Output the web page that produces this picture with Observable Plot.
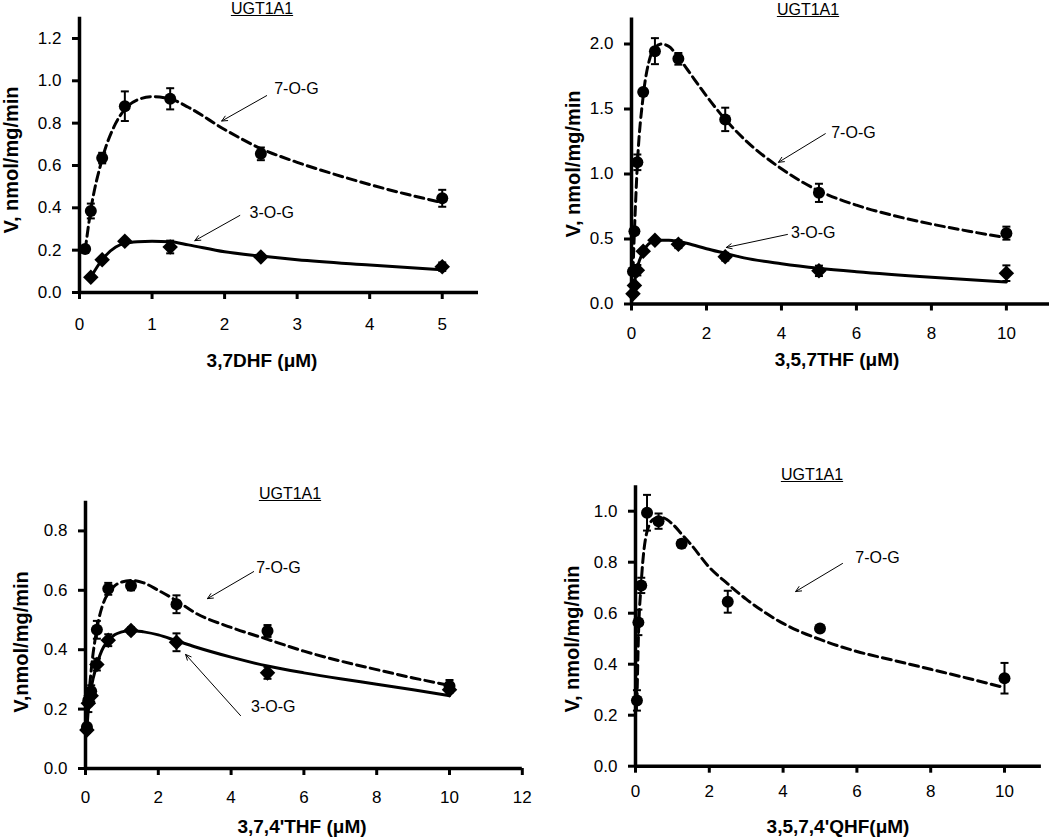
<!DOCTYPE html>
<html>
<head>
<meta charset="utf-8">
<script src="https://cdn.jsdelivr.net/npm/d3@7"></script>
<script src="https://cdn.jsdelivr.net/npm/@observablehq/plot@0.6"></script>
<style>
  body { margin: 0; background: #fff; font-family: "Liberation Sans", Arial, sans-serif; }
  #root { position: relative; width: 1050px; height: 837px; overflow: hidden; background: #fff; }
  .panel { position: absolute; }
  .t { position: absolute; white-space: nowrap; color: #000; transform: translate(-50%, -50%); line-height: 1; }
  .ugt { font-size: 16px; text-decoration: underline; }
  .xt { font-size: 19px; font-weight: bold; }
  .yt { font-size: 20px; font-weight: bold; transform: translate(-50%, -50%) rotate(-90deg); }
</style>
</head>
<body>
<div id="root"></div>
<script>
// ---------- Panel 1: 3,7DHF ----------
const p1SevenX = [0.078, 0.156, 0.3125, 0.625, 1.25, 2.5, 5];
const p1Seven = [0.205, 0.385, 0.635, 0.88, 0.915, 0.655, 0.445];
const p1SevenErr = [0, 0.035, 0.025, 0.07, 0.05, 0.03, 0.04];
const p1ThreeX = [0.156, 0.3125, 0.625, 1.25, 2.5, 5];
const p1Three = [0.072, 0.155, 0.242, 0.215, 0.168, 0.122];
const p1ThreeErr = [0, 0, 0.01, 0.03, 0.01, 0.02];
const p1SevenFitX = [0.078, 0.156, 0.3125, 0.5, 0.625, 0.8, 1.0, 1.25, 1.5, 2.0, 2.5, 3.0, 3.5, 4.0, 4.5, 5.0];
const p1SevenFit = [0.2, 0.39, 0.63, 0.8, 0.865, 0.91, 0.925, 0.915, 0.875, 0.77, 0.68, 0.615, 0.56, 0.51, 0.465, 0.425];
const p1ThreeFitX = [0.156, 0.3125, 0.5, 0.625, 0.8, 1.0, 1.25, 1.5, 2.0, 2.5, 3.0, 4.0, 5.0];
const p1ThreeFit = [0.072, 0.155, 0.215, 0.232, 0.24, 0.242, 0.24, 0.225, 0.192, 0.172, 0.155, 0.13, 0.107];

// ---------- Panel 2: 3,5,7THF ----------
const p2X = [0.039, 0.078, 0.156, 0.3125, 0.625, 1.25, 2.5, 5, 10];
const p2Seven = [0.25, 0.56, 1.09, 1.63, 1.945, 1.886, 1.42, 0.855, 0.545];
const p2SevenErr = [0, 0, 0.06, 0, 0.1, 0.045, 0.09, 0.07, 0.05];
const p2Three = [0.078, 0.142, 0.26, 0.406, 0.49, 0.46, 0.364, 0.255, 0.237];
const p2ThreeErr = [0, 0, 0.04, 0, 0, 0.03, 0.03, 0.04, 0.06];
const p2SevenFitX = [0.039, 0.078, 0.156, 0.3125, 0.5, 0.625, 0.8, 1.0, 1.25, 1.5, 2.0, 2.5, 3, 4, 5, 6, 7, 8, 9, 10];
const p2SevenFit = [0.25, 0.56, 1.07, 1.6, 1.9, 1.97, 2.0, 1.98, 1.9, 1.8, 1.6, 1.42, 1.27, 1.04, 0.87, 0.76, 0.68, 0.615, 0.56, 0.51];
const p2ThreeFitX = [0.039, 0.078, 0.156, 0.3125, 0.5, 0.8, 1.0, 1.25, 1.5, 2, 2.5, 3, 4, 5, 6, 8, 10];
const p2ThreeFit = [0.09, 0.16, 0.28, 0.4, 0.47, 0.49, 0.49, 0.48, 0.465, 0.425, 0.39, 0.355, 0.31, 0.275, 0.248, 0.205, 0.17];

// ---------- Panel 3: 3,7,4'THF ----------
const p3X = [0.039, 0.078, 0.156, 0.3125, 0.625, 1.25, 2.5, 5, 10];
const p3Seven = [0.14, 0.23, 0.26, 0.467, 0.605, 0.615, 0.553, 0.463, 0.278];
const p3SevenErr = [0.01, 0.02, 0.02, 0.03, 0.02, 0.015, 0.03, 0.02, 0.02];
const p3Three = [0.13, 0.22, 0.245, 0.35, 0.432, 0.465, 0.425, 0.322, 0.265];
const p3ThreeErr = [0.01, 0.03, 0.02, 0.02, 0.02, 0.01, 0.03, 0.02, 0.01];
const p3SevenFitX = [0.039, 0.078, 0.156, 0.3125, 0.5, 0.625, 0.8, 1.0, 1.3, 1.6, 2, 2.5, 3, 4, 5, 6, 7, 8, 9, 10];
const p3SevenFit = [0.14, 0.22, 0.33, 0.47, 0.56, 0.59, 0.615, 0.628, 0.633, 0.625, 0.6, 0.565, 0.525, 0.475, 0.435, 0.395, 0.362, 0.333, 0.305, 0.28];
const p3ThreeFitX = [0.039, 0.078, 0.156, 0.3125, 0.5, 0.625, 0.8, 1.0, 1.25, 1.6, 2, 2.5, 3, 4, 5, 6, 7, 8, 9, 10];
const p3ThreeFit = [0.13, 0.2, 0.27, 0.35, 0.41, 0.43, 0.45, 0.46, 0.465, 0.46, 0.45, 0.43, 0.41, 0.375, 0.345, 0.322, 0.302, 0.284, 0.265, 0.245];

// ---------- Panel 4: 3,5,7,4'QHF ----------
const p4X = [0.039, 0.078, 0.156, 0.3125, 0.625, 1.25, 2.5, 5, 10];
const p4Seven = [0.258, 0.564, 0.709, 0.994, 0.961, 0.872, 0.645, 0.54, 0.345];
const p4SevenErr = [0.04, 0.05, 0.03, 0.07, 0.03, 0.015, 0.043, 0, 0.06];
const p4SevenFitX = [0.039, 0.078, 0.156, 0.3125, 0.5, 0.7, 1.0, 1.25, 1.5, 2, 2.5, 3, 4, 5, 6, 7, 8, 9, 10];
const p4SevenFit = [0.25, 0.5, 0.72, 0.92, 0.97, 0.975, 0.95, 0.91, 0.87, 0.78, 0.715, 0.655, 0.56, 0.497, 0.45, 0.415, 0.38, 0.345, 0.308];

// ---------- Labels ----------
const panelTitle = "UGT1A1";
const xTitles = ["3,7DHF (μM)", "3,5,7THF (μM)", "3,7,4'THF (μM)", "3,5,7,4'QHF(μM)"];
const yTitles = ["V, nmol/mg/min", "V, nmol/mg/min", "V,nmol/mg/min", "V, nmol/mg/min"];
const p1XTicks = [0, 1, 2, 3, 4, 5];
const p1YTicks = [0, 0.2, 0.4, 0.6, 0.8, 1.0, 1.2];
const p2XTicks = [0, 2, 4, 6, 8, 10];
const p2YTicks = [0, 0.5, 1.0, 1.5, 2.0];
const p3XTicks = [0, 2, 4, 6, 8, 10, 12];
const p3YTicks = [0, 0.2, 0.4, 0.6, 0.8];
const p4XTicks = [0, 2, 4, 6, 8, 10];
const p4YTicks = [0, 0.2, 0.4, 0.6, 0.8, 1.0];

// Annotation labels and arrows (data coordinates)
const p1Notes = [{label: "7-O-G", x: 2.99, y: 0.96, x1: 2.58, y1: 0.93, x2: 1.96, y2: 0.81},
                 {label: "3-O-G", x: 2.65, y: 0.378, x1: 2.21, y1: 0.364, x2: 1.59, y2: 0.245}];
const p2Notes = [{label: "7-O-G", x: 5.92, y: 1.32, x1: 5.17, y1: 1.31, x2: 3.92, y2: 1.09},
                 {label: "3-O-G", x: 4.85, y: 0.55, x1: 4.16, y1: 0.535, x2: 2.53, y2: 0.435}];
const p3Notes = [{label: "7-O-G", x: 5.3, y: 0.677, x1: 4.62, y1: 0.663, x2: 3.35, y2: 0.572},
                 {label: "3-O-G", x: 5.16, y: 0.209, x1: 4.26, y1: 0.178, x2: 2.75, y2: 0.384}];
const p4Notes = [{label: "7-O-G", x: 6.56, y: 0.818, x1: 5.61, y1: 0.795, x2: 4.34, y2: 0.685}];

// ---------- helpers ----------
const rows = (xs, ys, es) => xs.map((x, i) => ({x, y: ys[i], e: es ? es[i] : 0}));
const capSymbol = { draw(ctx, size) { const w = Math.sqrt(size / Math.PI); ctx.moveTo(-w, 0); ctx.lineTo(w, 0); } };

function seriesMarks(pts, fit, symbol, dashed) {
  const withErr = pts.filter(d => d.e > 0);
  return [
    Plot.line(fit, {x: "x", y: "y", curve: "monotone-x", stroke: "#000", strokeWidth: 3,
      strokeDasharray: dashed ? "9,5" : null}),
    Plot.ruleX(withErr, {x: "x", y1: d => d.y - d.e, y2: d => d.y + d.e, stroke: "#000", strokeWidth: 2}),
    Plot.dot(withErr, {x: "x", y: d => d.y + d.e, symbol: capSymbol, r: 4, fill: "none", stroke: "#000", strokeWidth: 2}),
    Plot.dot(withErr, {x: "x", y: d => d.y - d.e, symbol: capSymbol, r: 4, fill: "none", stroke: "#000", strokeWidth: 2}),
    Plot.dot(pts, {x: "x", y: "y", symbol, r: symbol === "circle" ? 6 : 7, fill: "#000", stroke: "none"})
  ];
}

function notesMarks(notes) {
  return [
    Plot.arrow(notes, {x1: "x1", y1: "y1", x2: "x2", y2: "y2", stroke: "#000", strokeWidth: 1, headLength: 9, headAngle: 50}),
    Plot.text(notes, {x: "x", y: "y", text: "label", fontSize: 16, fill: "#000"})
  ];
}

function panel(cfg) {
  return Plot.plot({
    width: cfg.width, height: cfg.height,
    marginLeft: cfg.ml, marginRight: cfg.mr, marginTop: cfg.mt, marginBottom: cfg.mb,
    x: {domain: [0, cfg.xmax]},
    y: {domain: [0, cfg.ymax]},
    style: {fontFamily: '"Liberation Sans", Arial, sans-serif', color: "#000", background: "transparent", overflow: "visible"},
    marks: [
      Plot.axisX({ticks: cfg.xticks, tickSize: 7, tickPadding: cfg.xpad, strokeWidth: 3, fontSize: 17, label: null, tickFormat: d3.format("d")}),
      Plot.axisY({ticks: cfg.yticks, tickSize: 7, tickPadding: 11, strokeWidth: 3, fontSize: 17, label: null, tickFormat: d3.format(".1f")}),
      ...cfg.marks,
      Plot.ruleY([0], {stroke: "#000", strokeWidth: 3.5}),
      Plot.ruleX([0], {stroke: "#000", strokeWidth: 3.5}),
    ]
  });
}

const root = document.getElementById("root");
function place(el, left, top) {
  const d = document.createElement("div");
  d.className = "panel";
  d.style.left = left + "px"; d.style.top = top + "px";
  d.appendChild(el);
  root.appendChild(d);
}
function label(text, cls, x, y) {
  const d = document.createElement("div");
  d.className = "t " + cls;
  d.textContent = text;
  d.style.left = x + "px"; d.style.top = y + "px";
  root.appendChild(d);
}

place(panel({width: 520, height: 380, ml: 79, mr: 42, mt: 16.8, mb: 88, xmax: 5.5, ymax: 1.3,
  xticks: p1XTicks, yticks: p1YTicks, xpad: 18,
  marks: [
    ...seriesMarks(rows(p1SevenX, p1Seven, p1SevenErr), rows(p1SevenFitX, p1SevenFit), "circle", true),
    ...seriesMarks(rows(p1ThreeX, p1Three, p1ThreeErr), rows(p1ThreeFitX, p1ThreeFit), "diamond2", false),
    ...notesMarks(p1Notes)
  ]}), 0, 0);

place(panel({width: 530, height: 380, ml: 111, mr: 1, mt: 17.5, mb: 76.5, xmax: 11.15, ymax: 2.2,
  xticks: p2XTicks, yticks: p2YTicks, xpad: 16,
  marks: [
    ...seriesMarks(rows(p2X, p2Seven, p2SevenErr), rows(p2SevenFitX, p2SevenFit), "circle", true),
    ...seriesMarks(rows(p2X, p2Three, p2ThreeErr), rows(p2ThreeFitX, p2ThreeFit), "diamond2", false),
    ...notesMarks(p2Notes)
  ]}), 520, 0);

place(panel({width: 525, height: 417, ml: 85, mr: 3.2, mt: 80.7, mb: 69, xmax: 12, ymax: 0.9,
  xticks: p3XTicks, yticks: p3YTicks, xpad: 15,
  marks: [
    ...seriesMarks(rows(p3X, p3Seven, p3SevenErr), rows(p3SevenFitX, p3SevenFit), "circle", true),
    ...seriesMarks(rows(p3X, p3Three, p3ThreeErr), rows(p3ThreeFitX, p3ThreeFit), "diamond2", false),
    ...notesMarks(p3Notes)
  ]}), 0, 420);

place(panel({width: 530, height: 417, ml: 115, mr: 9.1, mt: 65.2, mb: 71.3, xmax: 11, ymax: 1.1,
  xticks: p4XTicks, yticks: p4YTicks, xpad: 12,
  marks: [
    ...seriesMarks(rows(p4X, p4Seven, p4SevenErr), rows(p4SevenFitX, p4SevenFit), "circle", true),
    ...notesMarks(p4Notes)
  ]}), 520, 420);

// Titles
label(panelTitle, "ugt", 262, 9);
label(panelTitle, "ugt", 808, 10);
label(panelTitle, "ugt", 290, 494);
label(panelTitle, "ugt", 812, 475);
label(xTitles[0], "xt", 262, 360);
label(xTitles[1], "xt", 837, 359);
label(xTitles[2], "xt", 302, 826);
label(xTitles[3], "xt", 838, 826);
label(yTitles[0], "yt", 11, 160);
label(yTitles[1], "yt", 573, 164);
label(yTitles[2], "yt", 21, 642);
label(yTitles[3], "yt", 572, 639);
</script>
</body>
</html>
